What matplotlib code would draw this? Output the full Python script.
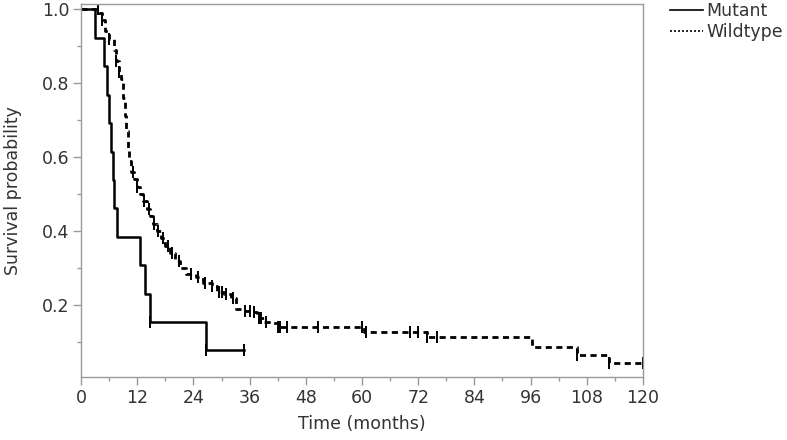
import numpy as np
import matplotlib.pyplot as plt

# Kaplan-Meier step curves (time in months, survival)
mutant_time = [0, 3.0, 5.0, 5.5, 6.0, 6.3, 6.8, 7.0, 7.7, 12.6, 13.6, 14.7, 26.7, 34.7]
mutant_surv = [1.0, 0.923, 0.846, 0.769, 0.692, 0.615, 0.538, 0.462, 0.385,
               0.308, 0.231, 0.154, 0.077, 0.077]
mutant_censor = [14.7, 26.7, 34.7]

wild_time = [0, 3.8, 4.5, 5.1, 6.0, 7.0, 7.5, 8.0, 8.5, 8.9, 9.3, 9.6, 10.0, 10.2,
             10.6, 11.3, 11.9, 12.5, 13.2, 14.0, 14.7, 15.3, 16.2, 17.0, 18.0,
             19.0, 20.0, 21.2, 22.5, 24.5, 26.0, 28.0, 29.0, 30.5, 32.0, 33.0,
             35.0, 36.5, 37.5, 39.0, 40.5, 42.0, 60.5, 73.8, 96.4, 106.0, 112.8, 120.0]
wild_surv = [1.0, 0.99, 0.97, 0.94, 0.92, 0.89, 0.86, 0.83, 0.81, 0.76, 0.71, 0.67,
             0.62, 0.59, 0.56, 0.54, 0.52, 0.50, 0.48, 0.46, 0.44, 0.42, 0.40, 0.38,
             0.36, 0.34, 0.32, 0.30, 0.285, 0.275, 0.26, 0.25, 0.235, 0.23, 0.22,
             0.19, 0.185, 0.18, 0.165, 0.155, 0.15, 0.14, 0.127, 0.114, 0.087,
             0.065, 0.043, 0.043]
wild_censor = [3.6, 4.5, 6.0, 7.5, 8.2, 11.0, 12.0, 13.5, 14.5, 15.5, 16.5, 17.5,
               18.5, 19.5, 21.0, 23.5, 25.0, 26.5, 28.0, 29.5, 30.0, 31.0, 32.5,
               35.0, 36.0, 37.0, 38.0, 38.5, 39.5, 42.0, 42.5, 44.0, 50.5, 60.0,
               60.8, 70.3, 72.0, 73.8, 76.0, 106.0, 112.8, 120.0]

x_ticks = list(range(0, 121, 12))
y_ticks = [0.2, 0.4, 0.6, 0.8, 1.0]


def surv_at(times, t_steps, s_steps):
    idx = np.searchsorted(t_steps, times, side='right') - 1
    return np.asarray(s_steps)[idx]


grey = '#9a9a9a'
txt = '#333333'
fs = 12.5

fig = plt.figure(figsize=(7.87, 4.40), dpi=100)
ax = fig.add_axes([0.103, 0.143, 0.714, 0.847])

ax.step(mutant_time, mutant_surv, where='post', color='black', lw=1.8,
        label='Mutant')
ax.plot(mutant_censor, surv_at(mutant_censor, mutant_time, mutant_surv), '|',
        color='black', ms=9, mew=1.4)

ax.step(wild_time, wild_surv, where='post', color='black', lw=2.0,
        dashes=(2.2, 1.6), label='Wildtype')
ax.plot(wild_censor, surv_at(wild_censor, wild_time, wild_surv), '|',
        color='black', ms=9, mew=1.4)

ax.set_xlim(0, 120)
ax.set_ylim(0.005, 1.013)
ax.set_xticks(x_ticks)
ax.set_xticks(np.arange(6, 120, 12), minor=True)
ax.set_yticks(y_ticks)
ax.set_yticklabels([f'{v:.1f}' for v in y_ticks])
ax.set_yticks([0.1, 0.3, 0.5, 0.7, 0.9], minor=True)

for sp in ax.spines.values():
    sp.set_color(grey)
    sp.set_linewidth(1.0)
ax.tick_params(which='major', length=5.5, width=1, color=grey, labelsize=fs,
               labelcolor=txt, pad=3)
ax.tick_params(which='minor', length=3, width=1, color=grey)

ax.set_xlabel('Time (months)', fontsize=fs, color=txt, labelpad=6)
ax.set_ylabel('Survival probability', fontsize=fs, color=txt, labelpad=14)

leg = ax.legend(loc='upper left', bbox_to_anchor=(1.035, 1.025), frameon=False,
                fontsize=fs, handlelength=1.9, handletextpad=0.2,
                labelspacing=0.2, borderaxespad=0)
for t in leg.get_texts():
    t.set_color(txt)
for h in leg.get_lines():
    h.set_linewidth(1.2)
leg.get_lines()[1].set_dashes((1.2, 1.2))

fig.savefig('out.png', dpi=100)
